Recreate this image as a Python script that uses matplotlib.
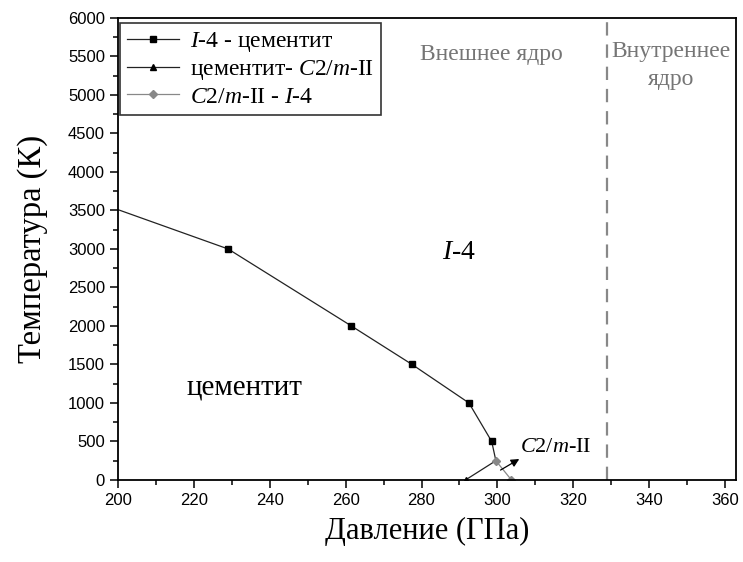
import matplotlib
matplotlib.use("Agg")
import matplotlib.pyplot as plt
from matplotlib.ticker import MultipleLocator

plt.rcParams['mathtext.fontset'] = 'custom'
plt.rcParams['mathtext.rm'] = 'Liberation Serif'
plt.rcParams['mathtext.it'] = 'Liberation Serif:italic'

SERIF = 'Liberation Serif'
SANS = 'Liberation Sans'

# phase boundaries: pressure (GPa), temperature (K)
p_i4_cem = [200, 229, 261.5, 277.5, 292.5, 298.5, 299.6]
t_i4_cem = [3510, 3000, 2000, 1500, 1000, 500, 250]
p_cem_c2m = [291.6, 299.6]
t_cem_c2m = [0, 250]
p_c2m_i4 = [299.6, 303.7]
t_c2m_i4 = [250, 0]

core_boundary = 329  # outer / inner core

fig = plt.figure(figsize=(7.43, 5.62), dpi=100)
ax = fig.add_axes([0.159, 0.146, 0.832, 0.822])

ax.plot(p_i4_cem, t_i4_cem, '-', color='#222222', lw=0.9, marker='s', ms=5,
        mfc='black', mec='black', markevery=list(range(1, 6)),
        label=r'$\mathit{I}$-4 - цементит')
ax.plot(p_cem_c2m, t_cem_c2m, '-', color='#222222', lw=0.9, marker='^', ms=5,
        mfc='black', mec='black', markevery=[0],
        label=r'цементит- $\mathit{C}$2/$\mathit{m}$-II')
ax.plot(p_c2m_i4, t_c2m_i4, '-', color='#888888', lw=0.9, marker='D', ms=4.5,
        mfc='#888888', mec='#888888',
        label=r'$\mathit{C}$2/$\mathit{m}$-II - $\mathit{I}$-4')

ax.axvline(core_boundary, color='#888888', ls=(0, (6, 4)), lw=1.6)

ax.text(0.604, 0.92, 'Внешнее ядро', transform=ax.transAxes, ha='center',
        va='center', fontsize=17, color='#757575', family=SERIF)
ax.text(0.895, 0.897, 'Внутреннее\nядро', transform=ax.transAxes, ha='center',
        va='center', fontsize=17, color='#757575', family=SERIF,
        linespacing=1.4)
ax.text(289.8, 2960, r'$\mathit{I}$-4', fontsize=20, ha='center', va='center',
        family=SERIF)
ax.text(233.4, 1200, 'цементит', fontsize=21, ha='center', va='center',
        family=SERIF)
ax.text(306.0, 420, r'$\mathit{C}$2/$\mathit{m}$-II', fontsize=16,
        ha='left', va='center', family=SERIF)
ax.annotate('', xy=(306.4, 290), xytext=(300.2, 110),
            arrowprops=dict(arrowstyle='-|>', color='black', lw=0.9,
                            mutation_scale=12))

ax.set_xlim(200, 363)
ax.set_ylim(0, 6000)
ax.xaxis.set_major_locator(MultipleLocator(20))
ax.xaxis.set_minor_locator(MultipleLocator(10))
ax.yaxis.set_major_locator(MultipleLocator(500))
ax.yaxis.set_minor_locator(MultipleLocator(250))
ax.tick_params(which='major', direction='out', length=6, width=1.1,
               labelsize=12, top=False, right=False)
ax.tick_params(which='minor', direction='out', length=3.5, width=1.1,
               top=False, right=False)
for lbl in ax.get_xticklabels() + ax.get_yticklabels():
    lbl.set_family(SANS)
for sp in ax.spines.values():
    sp.set_linewidth(1.3)

ax.set_xlabel('Давление (ГПа)', fontsize=22, family=SERIF, labelpad=6)
ax.set_ylabel('Температура (К)', fontsize=23.5, family=SERIF, labelpad=14)

leg = ax.legend(loc='upper left', bbox_to_anchor=(0.003, 0.989),
                borderaxespad=0, prop={'family': SERIF, 'size': 17},
                frameon=True, fancybox=False, edgecolor='black',
                handlelength=2.2, handletextpad=0.45,
                labelspacing=0.17, borderpad=0.3)
leg.get_frame().set_linewidth(1.2)

fig.savefig('out.png', dpi=100)
